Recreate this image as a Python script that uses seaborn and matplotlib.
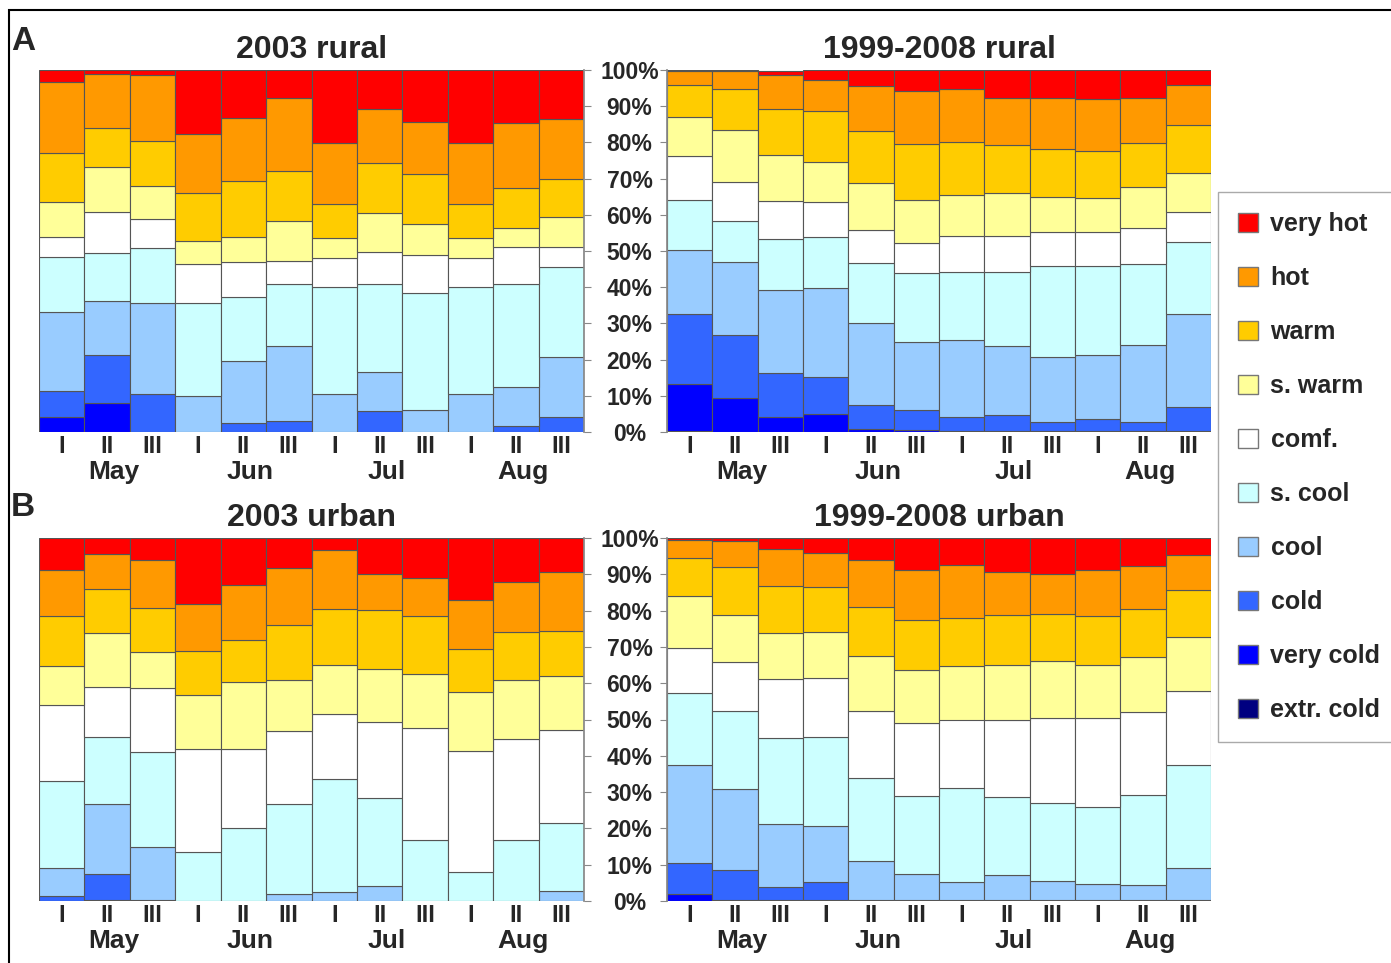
#!/usr/bin/env python3
"""
Stacked thermal-class shares per ten-day period, rural vs urban (2003 vs 1999-2008)
"""

import pandas as pd
import matplotlib
matplotlib.use('Agg')
import matplotlib.pyplot as plt
from matplotlib.patches import Patch, Rectangle
import seaborn as sns

W, H = 1391, 963

categories = ['very hot', 'hot', 'warm', 's. warm', 'comf.',
              's. cool', 'cool', 'cold', 'very cold', 'extr. cold']
colors = ['#ff0000', '#ff9900', '#ffcc00', '#ffff99', '#ffffff',
          '#ccffff', '#99ccff', '#3366ff', '#0000ff', '#000080']
months = ['May', 'Jun', 'Jul', 'Aug']
decades = ['I', 'II', 'III']
yticks = [0, 10, 20, 30, 40, 50, 60, 70, 80, 90, 100]

# share (%) of each class per ten-day period, rows follow `categories`
rural_2003 = [
    [3.2, 1.1, 1.4, 17.8, 13.2, 7.8, 20.3, 10.8, 14.3, 20.3, 14.7, 13.6],
    [19.6, 15.0, 18.1, 16.1, 17.5, 20.1, 16.8, 15.0, 14.4, 16.8, 18.0, 16.6],
    [13.8, 10.6, 12.5, 13.2, 15.3, 13.8, 9.4, 13.8, 13.9, 9.4, 10.9, 10.3],
    [9.4, 12.4, 9.2, 6.5, 7.1, 11.2, 5.5, 10.8, 8.5, 5.5, 5.4, 8.3],
    [5.6, 11.4, 7.9, 10.9, 9.7, 6.3, 7.9, 8.7, 10.6, 7.9, 10.1, 5.7],
    [15.3, 13.2, 15.2, 25.5, 17.6, 17.0, 29.6, 24.2, 32.2, 29.7, 28.4, 24.7],
    [21.8, 15.0, 25.1, 10.0, 17.0, 20.8, 10.5, 10.9, 6.1, 10.4, 10.8, 16.6],
    [7.1, 13.2, 10.6, 0.0, 2.6, 3.0, 0.0, 5.8, 0.0, 0.0, 1.7, 4.2],
    [4.2, 8.1, 0.0, 0.0, 0.0, 0.0, 0.0, 0.0, 0.0, 0.0, 0.0, 0.0],
    [0.0, 0.0, 0.0, 0.0, 0.0, 0.0, 0.0, 0.0, 0.0, 0.0, 0.0, 0.0],
]

rural_mean = [
    [0.3, 0.3, 1.1, 2.9, 4.4, 5.8, 5.3, 7.6, 7.6, 8.0, 7.6, 4.1],
    [3.8, 5.0, 9.5, 8.3, 12.4, 14.6, 14.5, 13.1, 14.3, 14.4, 12.5, 11.1],
    [8.8, 11.3, 12.6, 14.1, 14.3, 15.5, 14.7, 13.2, 13.3, 12.9, 12.1, 13.3],
    [10.9, 14.3, 12.7, 11.1, 13.1, 12.0, 11.4, 12.0, 9.5, 9.5, 11.5, 10.6],
    [12.1, 10.7, 10.7, 9.6, 9.2, 8.1, 10.0, 10.0, 9.4, 9.3, 9.9, 8.3],
    [13.8, 11.5, 14.0, 14.3, 16.6, 19.0, 18.7, 20.3, 25.3, 24.6, 22.4, 20.0],
    [17.7, 20.1, 23.0, 24.4, 22.5, 18.9, 21.3, 19.1, 17.7, 17.8, 21.1, 25.6],
    [19.4, 17.3, 12.0, 10.3, 6.8, 5.5, 3.7, 4.3, 2.5, 3.1, 2.5, 6.6],
    [12.9, 9.5, 4.2, 5.0, 0.7, 0.6, 0.4, 0.4, 0.4, 0.4, 0.4, 0.4],
    [0.3, 0.0, 0.0, 0.0, 0.0, 0.0, 0.0, 0.0, 0.0, 0.0, 0.0, 0.0],
]

urban_2003 = [
    [8.7, 4.4, 6.0, 18.1, 12.9, 8.3, 3.2, 9.8, 11.0, 17.0, 12.0, 9.5],
    [12.7, 9.7, 13.3, 13.0, 15.3, 15.8, 16.3, 10.0, 10.4, 13.6, 13.8, 16.1],
    [13.8, 12.1, 12.0, 12.1, 11.4, 15.0, 15.5, 16.4, 16.0, 11.7, 13.3, 12.4],
    [10.8, 14.9, 9.9, 15.0, 18.6, 14.1, 13.6, 14.6, 14.9, 16.3, 16.3, 14.9],
    [20.9, 13.8, 17.7, 28.3, 21.7, 20.1, 17.9, 20.8, 31.0, 33.4, 27.9, 25.5],
    [23.9, 18.4, 26.2, 13.5, 20.1, 24.9, 31.0, 24.3, 16.7, 8.0, 16.7, 18.8],
    [7.9, 19.2, 14.5, 0.0, 0.0, 1.8, 2.5, 4.1, 0.0, 0.0, 0.0, 2.8],
    [1.3, 7.1, 0.4, 0.0, 0.0, 0.0, 0.0, 0.0, 0.0, 0.0, 0.0, 0.0],
    [0.0, 0.4, 0.0, 0.0, 0.0, 0.0, 0.0, 0.0, 0.0, 0.0, 0.0, 0.0],
    [0.0, 0.0, 0.0, 0.0, 0.0, 0.0, 0.0, 0.0, 0.0, 0.0, 0.0, 0.0],
]

urban_mean = [
    [0.5, 0.9, 2.9, 4.0, 6.0, 8.7, 7.4, 9.5, 9.8, 8.7, 7.6, 4.6],
    [5.0, 7.1, 10.3, 9.5, 12.9, 13.8, 14.7, 11.7, 11.2, 12.9, 11.9, 9.8],
    [10.4, 13.2, 13.0, 12.5, 13.6, 13.8, 13.1, 13.8, 12.9, 13.4, 13.2, 12.9],
    [14.5, 13.0, 12.7, 12.5, 15.2, 14.8, 14.8, 15.0, 15.8, 14.7, 15.1, 14.8],
    [12.4, 13.5, 16.1, 16.2, 18.5, 19.9, 19.0, 21.3, 23.2, 24.4, 23.0, 20.5],
    [19.6, 21.5, 23.9, 24.7, 22.9, 21.6, 25.8, 21.6, 21.7, 21.1, 24.9, 28.2],
    [27.1, 22.3, 17.2, 15.4, 10.7, 7.2, 4.8, 6.9, 5.2, 4.6, 4.1, 9.0],
    [8.7, 8.1, 3.5, 5.0, 0.2, 0.2, 0.4, 0.2, 0.2, 0.2, 0.2, 0.2],
    [1.8, 0.4, 0.4, 0.2, 0.0, 0.0, 0.0, 0.0, 0.0, 0.0, 0.0, 0.0],
    [0.0, 0.0, 0.0, 0.0, 0.0, 0.0, 0.0, 0.0, 0.0, 0.0, 0.0, 0.0],
]


def to_long(table):
    rows = []
    for cat, vals in zip(categories, table):
        for i, v in enumerate(vals):
            rows.append({'period': i + 1, 'category': cat, 'share': v})
    return pd.DataFrame(rows)


def px_axes(x0, y0, x1, y1):
    """pixel box (top-left origin) -> figure axes"""
    return fig.add_axes([x0 / W, 1 - y1 / H, (x1 - x0) / W, (y1 - y0) / H])


def draw_panel(ax, table, title, labels_side):
    df = to_long(table)
    sns.histplot(data=df, x='period', hue='category', weights='share',
                 hue_order=categories, palette=colors, multiple='stack',
                 discrete=True, shrink=1, alpha=1, edgecolor='#555555',
                 linewidth=0.8, legend=False, ax=ax)
    n = len(table[0])
    ax.set_xlim(0.5, n + 0.5)
    ax.set_ylim(0, 100)
    ax.set_xlabel('')
    ax.set_ylabel('')
    ax.set_title(title, fontsize=23, fontweight='bold', pad=9)

    # month boundaries (long ticks) and decade boundaries (short ticks)
    ax.set_xticks([i + 0.5 for i in range(0, n + 1, 3)])
    ax.set_xticks([i + 0.5 for i in range(1, n) if i % 3], minor=True)
    ax.tick_params(axis='x', which='major', length=27, width=0.8,
                   color='#888888', labelbottom=False)
    ax.tick_params(axis='x', which='minor', length=12, width=0.8,
                   color='#888888')

    for i in range(n):
        ax.annotate(decades[i % 3], xy=(i + 1, 0),
                    xycoords=('data', 'axes fraction'), xytext=(0, -2),
                    textcoords='offset points', ha='center', va='top',
                    fontsize=17, fontweight='bold')
    for m, name in enumerate(months):
        ax.annotate(name, xy=(3 * m + 2.15, 0),
                    xycoords=('data', 'axes fraction'), xytext=(0, -20),
                    textcoords='offset points', ha='center', va='top',
                    fontsize=19, fontweight='bold')

    for s in ax.spines.values():
        s.set_visible(False)
    ax.set_yticks(yticks)
    if labels_side == 'left':
        ax.spines['left'].set_visible(True)
        ax.spines['left'].set_color('#888888')
        ax.set_yticklabels([f'{t}%' for t in yticks])
        ax.tick_params(axis='y', left=True, right=False, length=5, width=0.8,
                       color='#888888', pad=22, labelsize=16.5)
        for lab in ax.get_yticklabels():
            lab.set_horizontalalignment('center')
            lab.set_fontweight('bold')
    else:
        ax.spines['right'].set_visible(True)
        ax.spines['right'].set_color('#888888')
        ax.tick_params(axis='y', left=False, right=True, labelleft=False,
                       length=5, width=0.8, color='#888888')


sns.set_theme(style='white')
plt.rcParams['font.family'] = ['Liberation Sans', 'DejaVu Sans']

fig = plt.figure(figsize=(W / 100, H / 100), dpi=100)

ax_a1 = px_axes(39, 70, 584, 432)
ax_a2 = px_axes(667, 70, 1211, 432)
ax_b1 = px_axes(39, 538, 584, 901)
ax_b2 = px_axes(667, 538, 1211, 901)

draw_panel(ax_a1, rural_2003, '2003 rural', 'right')
draw_panel(ax_a2, rural_mean, '1999-2008 rural', 'left')
draw_panel(ax_b1, urban_2003, '2003 urban', 'right')
draw_panel(ax_b2, urban_mean, '1999-2008 urban', 'left')

fig.text(11 / W, 1 - 41 / H, 'A', fontsize=24, fontweight='bold', va='center')
fig.text(11 / W, 1 - 507 / H, 'B', fontsize=24, fontweight='bold', va='center')

# outer frame of the original figure
fig.add_artist(Rectangle((9 / W, -0.1), 1.2, 1.1 - 10 / H,
                         transform=fig.transFigure, fill=False,
                         edgecolor='black', linewidth=1.5))

handles = [Patch(facecolor=c, edgecolor='#777777', label=cat)
           for cat, c in zip(categories, colors)]
fig.legend(handles=handles, loc='upper left',
           bbox_to_anchor=(1218 / W, 1 - 192 / H), frameon=True,
           fancybox=False, edgecolor='#aaaaaa', framealpha=1,
           prop=dict(weight='bold', size=18), handlelength=0.8,
           handleheight=0.8, handletextpad=0.5, labelspacing=1.2,
           borderpad=0.8, borderaxespad=0)

fig.savefig('out.png', dpi=100)
